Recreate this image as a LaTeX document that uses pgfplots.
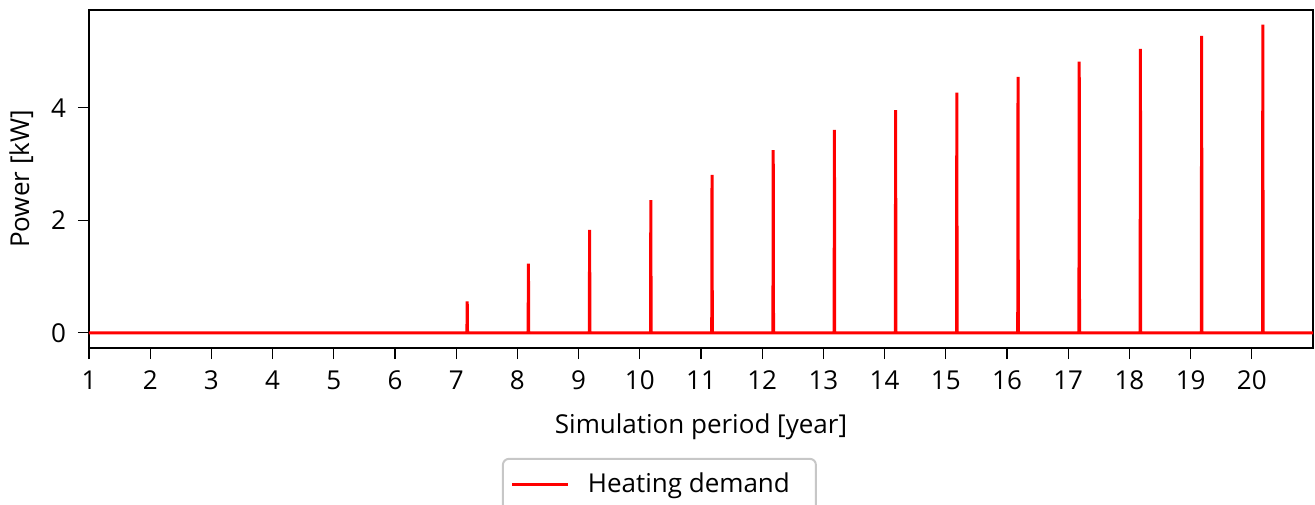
\documentclass[border=0pt]{standalone}
\usepackage{pgfplots}
\pgfplotsset{compat=1.18}
\usepackage{fontspec}
\setmainfont{Open Sans}
\begin{document}
\fontsize{13}{15}\selectfont
\begin{tikzpicture}
\begin{axis}[
  scale only axis,
  width=612pt, height=169pt,
  xmin=1, xmax=21, ymin=-0.27, ymax=5.74,
  xtick={1,...,20},
  ytick={0,2,4},
  tick align=outside,
  major tick length=5.5pt,
  xtick pos=bottom, ytick pos=left,
  tick style={black, line width=0.6pt},
  axis line style={line width=0.6pt},
  /pgf/number format/assume math mode=true,
  ticklabel style={font=\fontsize{13}{15}\selectfont},
  yticklabel style={xshift=-1.5pt},
  xticklabel style={yshift=-1.5pt},
  xlabel={Simulation period [year]},
  ylabel={Power [kW]},
  label style={font=\fontsize{13}{15}\selectfont},
  xlabel style={yshift=-3pt},
  ylabel style={yshift=0pt},
  legend style={at={(0.466,-0.325)}, anchor=north, draw=black!22, line width=1pt, rounded corners=3pt,
    font=\fontsize{13}{15}\selectfont, inner xsep=4pt, inner ysep=5pt,
    nodes={inner xsep=9pt}},
  legend cell align=left,
  legend image code/.code={\draw[#1] (-2pt,0pt) -- (26pt,0pt);},
]
\addplot[red, line width=1.5pt, line join=miter] coordinates {
(1,0)
(7.175,0)(7.18,0.56)(7.185,0)
(8.175,0)(8.18,1.23)(8.185,0)
(9.175,0)(9.18,1.83)(9.185,0)
(10.175,0)(10.18,2.36)(10.185,0)
(11.175,0)(11.18,2.81)(11.185,0)
(12.175,0)(12.18,3.25)(12.185,0)
(13.175,0)(13.18,3.61)(13.185,0)
(14.175,0)(14.18,3.96)(14.185,0)
(15.175,0)(15.18,4.27)(15.185,0)
(16.175,0)(16.18,4.55)(16.185,0)
(17.175,0)(17.18,4.82)(17.185,0)
(18.175,0)(18.18,5.05)(18.185,0)
(19.175,0)(19.18,5.28)(19.185,0)
(20.175,0)(20.18,5.48)(20.185,0)
(21,0)
};
\addlegendentry{Heating demand}
\coordinate (bl) at (rel axis cs:0,0);
\coordinate (tr) at (rel axis cs:1,1);
\end{axis}
\pgfresetboundingbox
\useasboundingbox ([shift={(-44.5pt,-78pt)}]bl) rectangle ([shift={(1pt,5pt)}]tr);
\end{tikzpicture}
\end{document}
